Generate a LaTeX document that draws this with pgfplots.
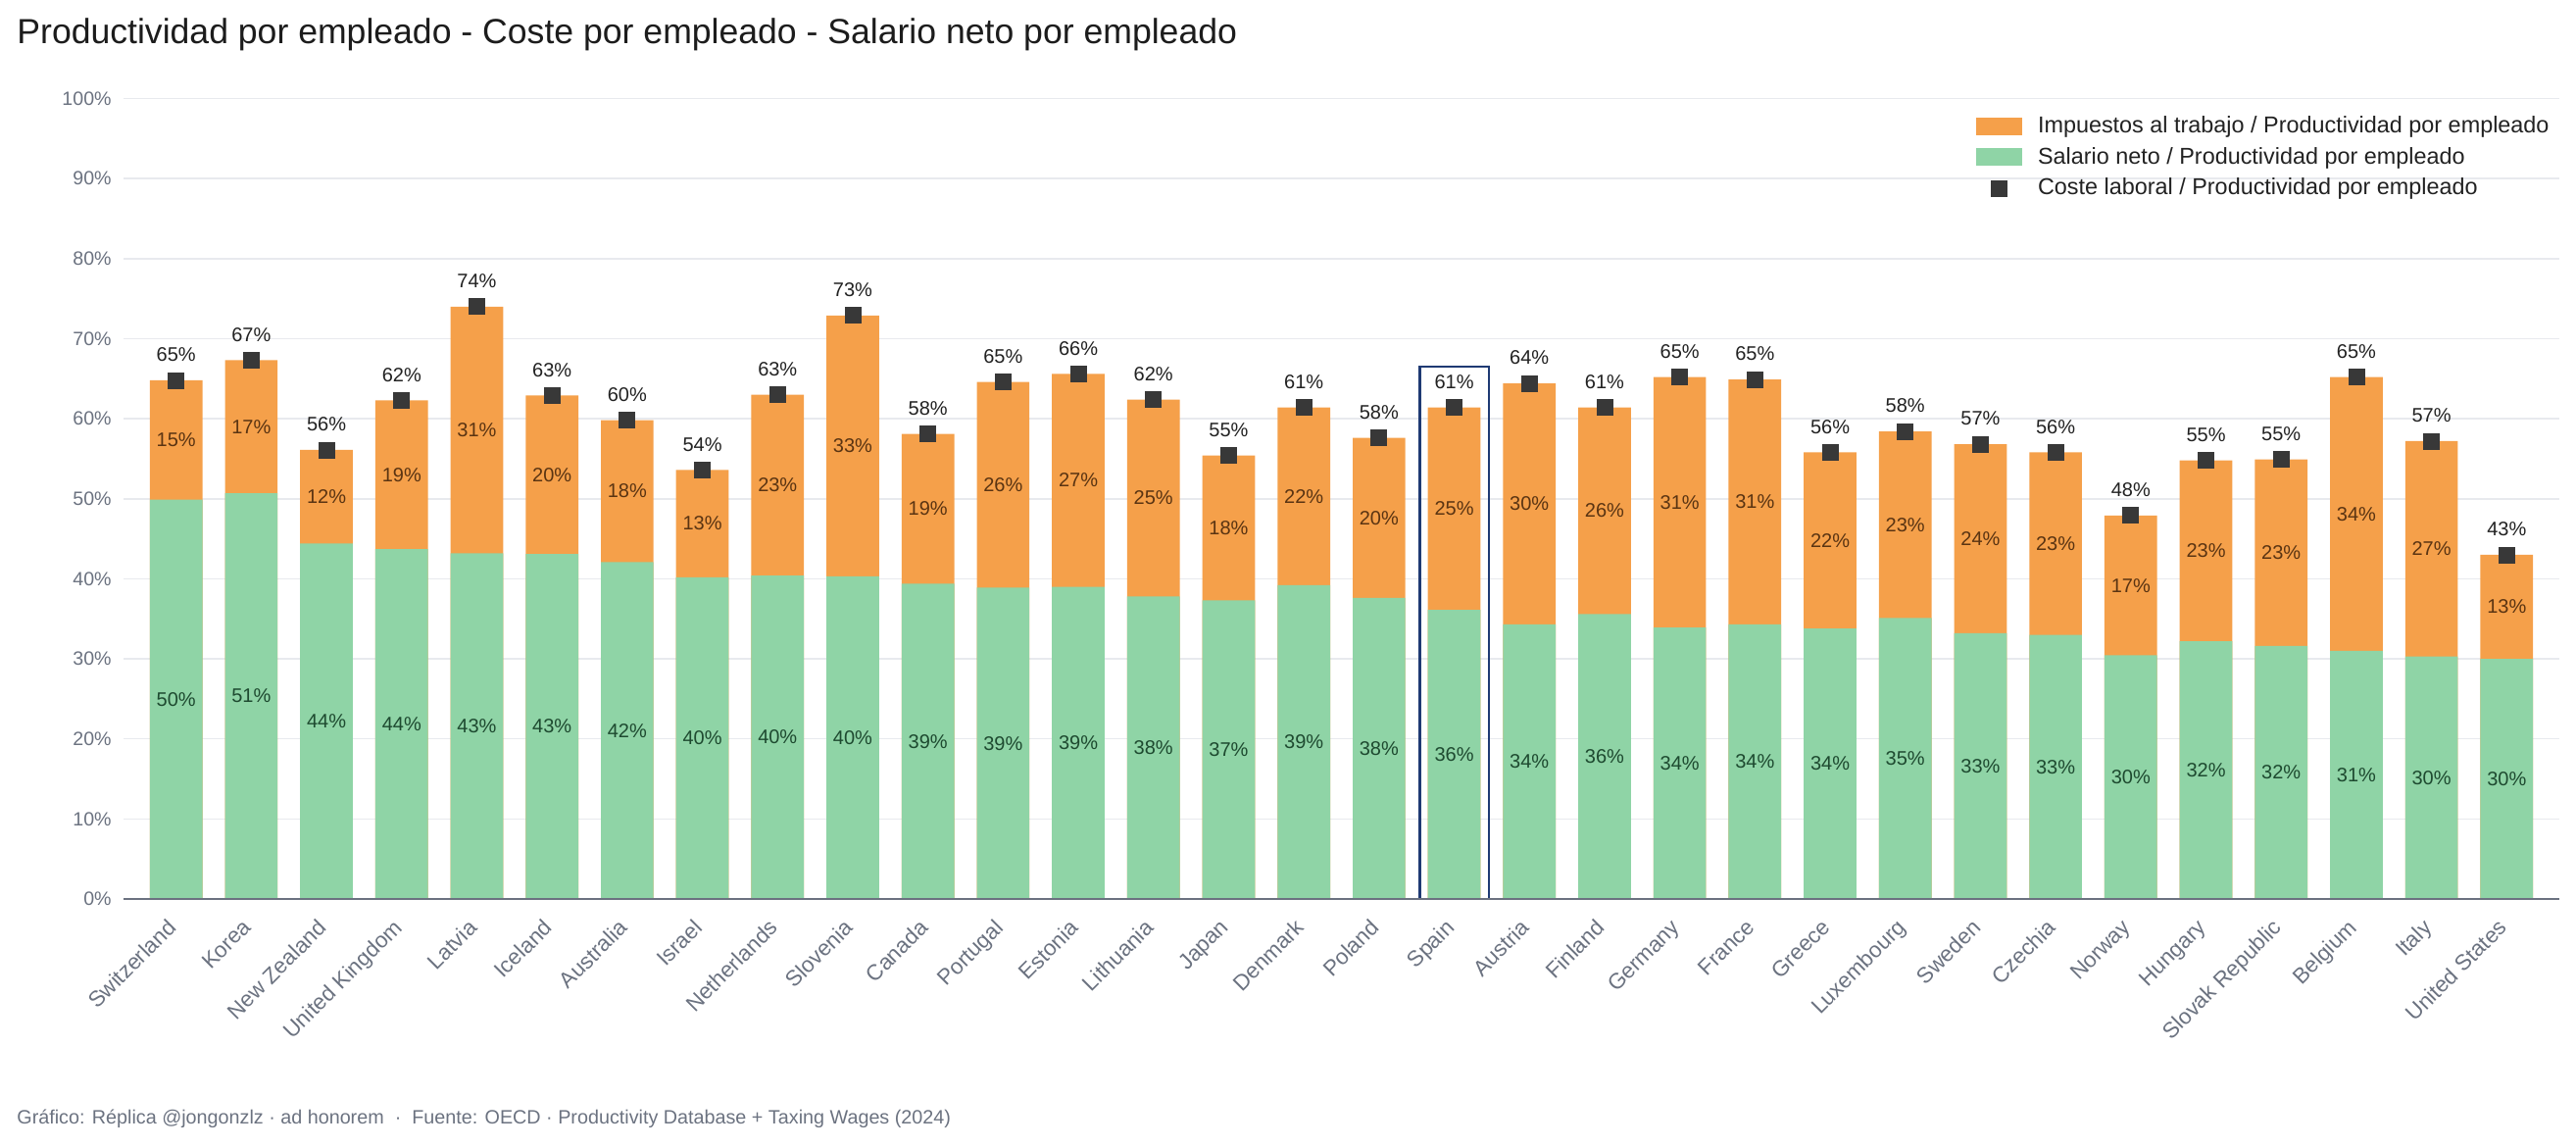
\documentclass[border=0pt]{standalone}
\usepackage{fontspec}
\setmainfont{Liberation Sans}
\usepackage{pgfplots}
\pgfplotsset{compat=1.18}
\usepackage{pgfplotstable}

\definecolor{taxcol}{HTML}{F5A04A}
\definecolor{netcol}{HTML}{8FD4A6}
\definecolor{markcol}{HTML}{383838}
\definecolor{axisgray}{HTML}{6B7280}
\definecolor{gridgray}{HTML}{E8EAEE}
\definecolor{taxtext}{HTML}{5A3412}
\definecolor{nettext}{HTML}{1E4A30}
\definecolor{spaincol}{HTML}{1F3A73}
\definecolor{titlecol}{HTML}{1C1C1C}
\definecolor{labelcol}{HTML}{222222}

% net wage, labour taxes and total labour cost, as % of productivity per employee
\pgfplotstableread{
idx net   tax   total
0   49.9  14.9  64.8
1   50.7  16.6  67.3
2   44.4  11.7  56.1
3   43.7  18.6  62.3
4   43.2  30.8  74.0
5   43.1  19.8  62.9
6   42.1  17.7  59.8
7   40.2  13.4  53.6
8   40.4  22.6  63.0
9   40.3  32.6  72.9
10  39.4  18.7  58.1
11  38.9  25.7  64.6
12  39.0  26.6  65.6
13  37.8  24.6  62.4
14  37.3  18.1  55.4
15  39.2  22.2  61.4
16  37.6  20.0  57.6
17  36.1  25.3  61.4
18  34.3  30.1  64.4
19  35.6  25.8  61.4
20  33.9  31.3  65.2
21  34.3  30.6  64.9
22  33.8  22.0  55.8
23  35.1  23.3  58.4
24  33.2  23.6  56.8
25  33.0  22.8  55.8
26  30.45 17.45 47.9
27  32.2  22.6  54.8
28  31.6  23.3  54.9
29  31.0  34.2  65.2
30  30.3  26.9  57.2
31  30.0  13.0  43.0
}\oecd

\begin{document}
\begin{tikzpicture}[x=1pt,y=1pt]

\begin{axis}[
  at={(63pt,126pt)}, anchor=south west,
  scale only axis, width=1242.5pt, height=408.25pt,
  xmin=-0.7, xmax=31.7, ymin=0, ymax=100,
  axis line style={draw=none},
  major tick length=0pt,
  /pgf/number format/assume math mode=true,
  ytick={0,10,...,100},
  yticklabel={\pgfmathprintnumber{\tick}\%},
  yticklabel style={text=axisgray, font=\fontsize{9.8}{12}\selectfont, anchor=east, inner sep=0pt, xshift=-6pt},
  ymajorgrids, grid style={gridgray, line width=0.75pt},
  xtick={0,...,31},
  xticklabels={Switzerland,Korea,New Zealand,United Kingdom,Latvia,Iceland,Australia,Israel,Netherlands,Slovenia,Canada,Portugal,Estonia,Lithuania,Japan,Denmark,Poland,Spain,Austria,Finland,Germany,France,Greece,Luxembourg,Sweden,Czechia,Norway,Hungary,Slovak Republic,Belgium,Italy,United States},
  xticklabel style={text=axisgray, font=\fontsize{11.2}{13}\selectfont, xshift=-5pt, yshift=-8pt, rotate=45, anchor=north east, inner sep=1pt},
  legend cell align=left,
  legend style={draw=none, fill=none, at={(axis description cs:1,1)}, anchor=north east,
    xshift=0pt, yshift=-5pt, row sep=1.8pt, text=labelcol,
    font=\fontsize{11.7}{14}\selectfont},
]

% full-height bar: labour taxes on top of the net wage
\addplot[ybar, bar width=0.7, bar shift=0pt, fill=taxcol, draw=none,
  legend image code/.code={\path (0pt,0pt); \fill[taxcol] (2.5pt,-4.5pt) rectangle (26pt,4.5pt); \path (32pt,0pt);}]
  table[x=idx, y=total] {\oecd};
\addlegendentry{Impuestos al trabajo / Productividad por empleado}

\addplot[ybar, bar width=0.7, bar shift=0pt, fill=netcol, draw=none,
  legend image code/.code={\path (0pt,0pt); \fill[netcol] (2.5pt,-4.5pt) rectangle (26pt,4.5pt); \path (32pt,0pt);}]
  table[x=idx, y=net] {\oecd};
\addlegendentry{Salario neto / Productividad por empleado}

% labour cost marker with its value
\addplot[only marks, mark=square*, mark size=4pt, mark options={fill=markcol, draw=markcol},
  nodes near coords={\pgfmathprintnumber[fixed,precision=0]{\pgfplotspointmeta}\%},
  point meta=explicit,
  every node near coord/.append style={text=labelcol, font=\fontsize{10}{12}\selectfont, anchor=south, yshift=6pt},
  legend image code/.code={\path (0pt,0pt); \fill[markcol] (10.25pt,-4pt) rectangle (18.25pt,4pt); \path (32pt,0pt);}]
  table[x=idx, y=total, meta=total] {\oecd};
\addlegendentry{Coste laboral / Productividad por empleado}

% segment values, centred in each segment
\addplot[draw=none, mark=none, forget plot,
  nodes near coords={\pgfmathprintnumber[fixed,precision=0]{\pgfplotspointmeta}\%},
  nodes near coords align=center, point meta=explicit,
  every node near coord/.append style={text=nettext, font=\fontsize{10}{12}\selectfont}]
  table[x=idx, y expr=\thisrow{net}/2, meta=net] {\oecd};

\addplot[draw=none, mark=none, forget plot,
  nodes near coords={\pgfmathprintnumber[fixed,precision=0]{\pgfplotspointmeta}\%},
  nodes near coords align=center, point meta=explicit,
  every node near coord/.append style={text=taxtext, font=\fontsize{10}{12}\selectfont}]
  table[x=idx, y expr=\thisrow{net}+\thisrow{tax}/2, meta=tax] {\oecd};

% highlight frame around Spain
\draw[spaincol, line width=1.3pt] (axis cs:16.54,0) rectangle (axis cs:17.46,66.5);

% baseline
\draw[axisgray, line width=1.2pt] (rel axis cs:0,0) -- (rel axis cs:1,0);
\end{axis}

\node[anchor=base west, inner sep=0, text=titlecol,
      font=\fontsize{17.8}{21}\selectfont] at (8.5pt,562pt)
  {Productividad por empleado - Coste por empleado - Salario neto por empleado};

\node[anchor=base west, inner sep=0, text=axisgray,
      font=\fontsize{9.88}{12}\selectfont] at (8.5pt,11.5pt)
  {Gráfico: Réplica @jongonzlz · ad honorem \ · \ Fuente: OECD · Productivity Database + Taxing Wages (2024)};

% page frame
\path (0pt,0pt) rectangle (1314pt,584.5pt);
\end{tikzpicture}
\end{document}
